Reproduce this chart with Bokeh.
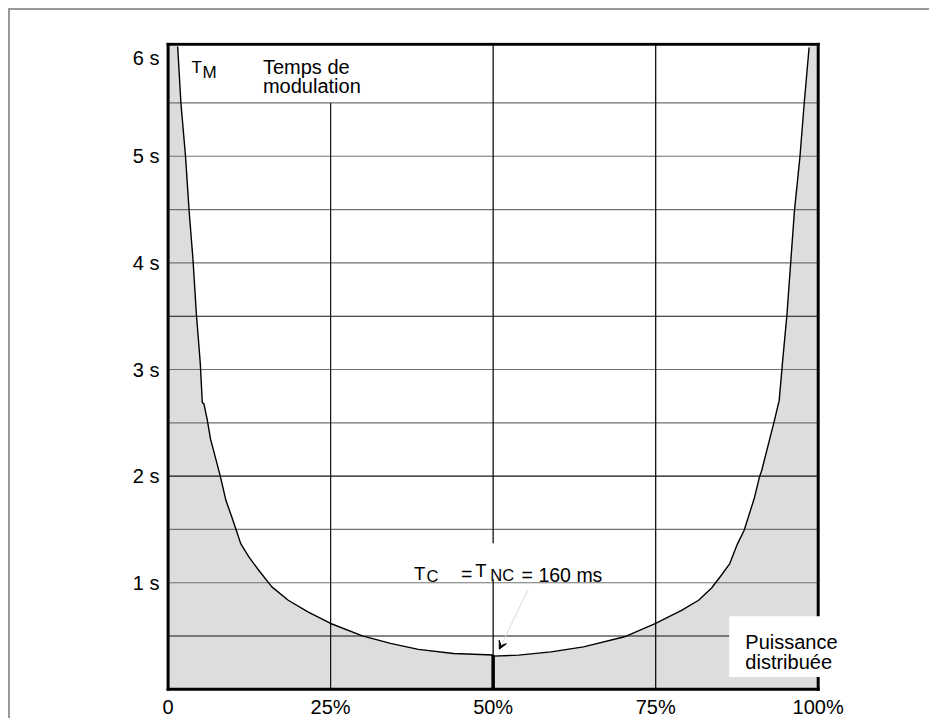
from bokeh.plotting import figure
from bokeh.models import FixedTicker, Arrow, VeeHead, Label
from bokeh.core.properties import value
from bokeh.embed import file_html
from bokeh.resources import INLINE

# ---- data ----
# left branch (power %, modulation time s)
power_left = [1.47, 1.97, 2.68, 3.23, 3.83, 4.35, 4.95, 5.26, 5.50, 6.02, 6.52, 8.03,
              8.89, 9.80, 10.5, 11.17, 12.42, 13.94, 15.96, 18.48, 21.5, 25.0, 29.9,
              34.2, 38.5, 43.9, 50.0]
time_left = [6.03, 5.50, 5.00, 4.49, 4.03, 3.52, 3.06, 2.69, 2.68, 2.53, 2.35, 2.00,
             1.773, 1.616, 1.49, 1.367, 1.242, 1.117, 0.961, 0.836, 0.727, 0.618, 0.502,
             0.431, 0.375, 0.337, 0.322]
# right branch
power_right = [50.0, 53.9, 58.9, 63.9, 70.2, 75.0, 79.05, 81.6, 83.6, 85.1, 86.4, 87.6,
               88.6, 90.0, 90.2, 91.0, 91.3, 93.3, 94.0, 94.5, 95.2, 95.8, 96.35, 97.2,
               97.85, 98.6]
time_right = [0.312, 0.321, 0.352, 0.399, 0.493, 0.618, 0.743, 0.836, 0.951, 1.070, 1.18, 1.367,
              1.49, 1.76, 1.80, 2.00, 2.05, 2.53, 2.71, 3.06, 3.52, 4.03, 4.49, 5.00,
              5.50, 6.02]

x_ticks = [0, 25, 50, 75, 100]
x_tick_labels = ["0", "25%", "50%", "75%", "100%"]
y_ticks = [1, 2, 3, 4, 5, 5.92]
y_tick_labels = ["1 s", "2 s", "3 s", "4 s", "5 s", "6 s"]
grid_dark_y = [0.5, 2.0, 3.5]
grid_light_y = [1.0, 1.5, 2.5, 3.0, 4.0, 4.5, 5.0, 5.5]
grid_x_short = [25]
grid_x_full = [50, 75]
tc_minimum = 0.322   # minimum modulation time at 50 %

X_MAX = 100
Y_TOP = 6.05
FONT = value("Liberation Sans")

p = figure(width=921, height=710, x_range=(-0.4, 104.2), y_range=(-0.02, 6.067),
           output_backend="svg", toolbar_location=None,
           min_border_left=155, min_border_right=86, min_border_top=32, min_border_bottom=28)
p.styles = {"margin-left": "8px", "margin-top": "8px",
            "border-top": "2px solid #9a9a9a", "border-left": "2px solid #9a9a9a"}
p.background_fill_color = "white"
p.border_fill_color = "white"
p.outline_line_color = None
p.xgrid.visible = False
p.ygrid.visible = False

# shaded region under the curve
fill_x = [0, power_left[0]] + power_left + power_right + [power_right[-1], X_MAX, X_MAX, 0]
fill_y = [Y_TOP, Y_TOP] + time_left + time_right + [Y_TOP, Y_TOP, 0, 0]
p.patch(fill_x, fill_y, fill_color="#dddddd", line_color=None)

# grid lines
p.segment(x0=[0] * len(grid_light_y), y0=grid_light_y, x1=[X_MAX] * len(grid_light_y), y1=grid_light_y,
          line_color="#707070", line_width=1.2)
p.segment(x0=[0] * len(grid_dark_y), y0=grid_dark_y, x1=[X_MAX] * len(grid_dark_y), y1=grid_dark_y,
          line_color="#111111", line_width=1.1)
p.segment(x0=grid_x_short, y0=[0], x1=grid_x_short, y1=[5.5], line_color="#111111", line_width=1.2)
p.segment(x0=grid_x_full, y0=[0, 0], x1=grid_x_full, y1=[Y_TOP, Y_TOP], line_color="#111111", line_width=1.3)

# white background behind the Tc text
p.quad(left=[36], right=[67], bottom=[1.033], top=[1.371], fill_color="white", line_color=None)

# curve
p.line(power_left, time_left, line_color="black", line_width=1.4)
p.line(power_right, time_right, line_color="black", line_width=1.4)
p.segment(x0=[50], y0=[0], x1=[50], y1=[tc_minimum], line_color="black", line_width=3.5)

# chart frame
p.segment(x0=[0, X_MAX, 0, 0], y0=[0, 0, 0, Y_TOP], x1=[0, X_MAX, X_MAX, X_MAX], y1=[Y_TOP, Y_TOP, 0, Y_TOP],
          line_color="black", line_width=3, line_cap="square")

# label box (covers the frame edge like in the reference)
p.quad(left=[86.31], right=[100.4], bottom=[0.115], top=[0.686], fill_color="white", line_color=None)

def txt(x, y, text, size):
    p.add_layout(Label(x=x, y=y, text=text, text_font="Liberation Sans", text_font_size=size,
                       text_baseline="alphabetic", text_align="left", text_color="black"))

txt(14.59, 5.840, "Temps de", "20px")
txt(14.59, 5.659, "modulation", "20px")
txt(3.59, 5.831, "T", "17px")
txt(5.30, 5.784, "M", "17px")
txt(37.82, 1.086, "T", "18.5px")
txt(39.76, 1.064, "C", "16.5px")
txt(45.04, 1.084, "=", "19.5px")
txt(47.25, 1.111, "T", "18.5px")
txt(49.56, 1.077, "NC", "16.5px")
txt(54.38, 1.077, "= 160 ms", "19.5px")
txt(88.79, 0.446, "Puissance", "20px")
txt(88.79, 0.253, "distribuée", "20px")

p.add_layout(Arrow(x_start=55.33, y_start=0.93, x_end=50.95, y_end=0.377,
                   line_color="#dadada", line_width=1,
                   end=VeeHead(size=8, fill_color="black", line_color="black", line_width=1)))

# axes
for ax in (p.xaxis[0], p.yaxis[0]):
    ax.axis_line_color = None
    ax.major_tick_line_color = None
    ax.minor_tick_line_color = None
    ax.major_tick_in = 0
    ax.major_tick_out = 0
    ax.major_label_text_font = "Liberation Sans"
    ax.major_label_text_font_size = "20px"
    ax.major_label_text_color = "black"

p.xaxis.ticker = FixedTicker(ticks=x_ticks)
p.xaxis.major_label_overrides = dict(zip(x_ticks, x_tick_labels))
p.xaxis.major_label_standoff = 4
p.yaxis.ticker = FixedTicker(ticks=y_ticks)
p.yaxis.major_label_overrides = dict(zip(y_ticks, y_tick_labels))
p.yaxis.major_label_standoff = 6

open("out.html", "w").write(file_html(p, INLINE))
